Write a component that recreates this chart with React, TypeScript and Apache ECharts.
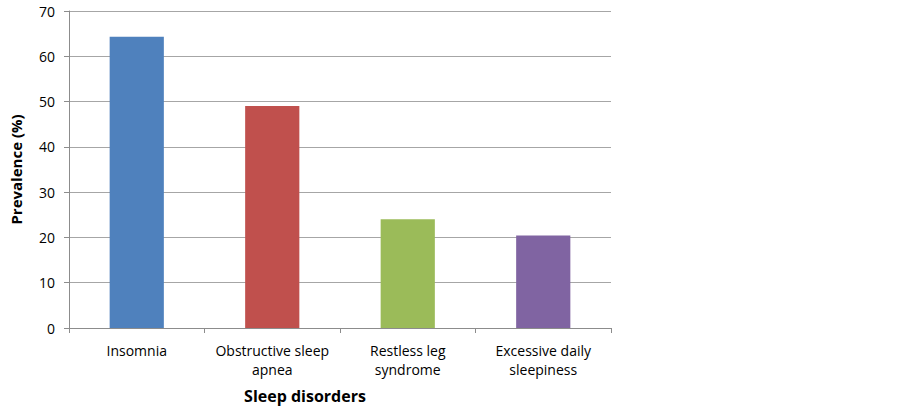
import React, { useEffect, useRef } from "react";
import * as echarts from "echarts";

const categories = [
  "Insomnia",
  "Obstructive sleep\napnea",
  "Restless leg\nsyndrome",
  "Excessive daily\nsleepiness",
];
const prevalence = [64.3, 49.0, 24.0, 20.4];
const barColors = ["#4F81BD", "#C0504D", "#9BBB59", "#8064A2"];
const yTicks = { min: 0, max: 70, interval: 10 };

const FONT = "'Open Sans', 'Liberation Sans', sans-serif";

export default function App() {
  const ref = useRef<HTMLDivElement>(null);
  useEffect(() => {
    if (!ref.current) return;
    const chart = echarts.init(ref.current, undefined, { renderer: "svg" });
    chart.setOption({
      animation: false,
      backgroundColor: "#ffffff",
      grid: { left: 66, right: 289, top: 11, bottom: 81, containLabel: false },
      xAxis: {
        type: "category",
        data: categories,
        boundaryGap: true,
        axisLine: { show: true, lineStyle: { color: "#8c8c8c", width: 1 } },
        axisTick: { show: true, length: 5, lineStyle: { color: "#8c8c8c" } },
        axisLabel: {
          interval: 0,
          margin: 13,
          color: "#000",
          fontFamily: FONT,
          fontSize: 14,
          lineHeight: 19,
          align: "center",
        },
        splitLine: { show: false },
      },
      yAxis: {
        type: "value",
        min: yTicks.min,
        max: yTicks.max,
        interval: yTicks.interval,
        name: "Prevalence (%)",
        nameLocation: "middle",
        nameRotate: 90,
        nameGap: 46,
        nameTextStyle: {
          fontFamily: FONT,
          fontSize: 15,
          fontWeight: "bold",
          color: "#000",
        },
        axisLine: { show: true, lineStyle: { color: "#8c8c8c", width: 1 } },
        axisTick: { show: true, length: 5, inside: false, lineStyle: { color: "#8c8c8c" } },
        axisLabel: {
          margin: 14,
          color: "#000",
          fontFamily: FONT,
          fontSize: 14,
        },
        splitLine: { show: true, lineStyle: { color: "#a6a6a6", width: 1 } },
      },
      graphic: [
        {
          type: "text",
          x: 305,
          y: 396,
          style: {
            text: "Sleep disorders",
            fontFamily: FONT,
            fontSize: 16,
            fontWeight: "bold",
            fill: "#000",
            align: "center",
            verticalAlign: "middle",
          },
        },
      ],
      series: [
        {
          type: "bar",
          data: prevalence.map((v, i) => ({
            value: v,
            itemStyle: { color: barColors[i] },
          })),
          barCategoryGap: "60%",
        },
      ],
    });
    return () => chart.dispose();
  }, []);
  return <div ref={ref} style={{ width: 900, height: 409, position: "absolute", left: 0, top: 0 }} />;
}
